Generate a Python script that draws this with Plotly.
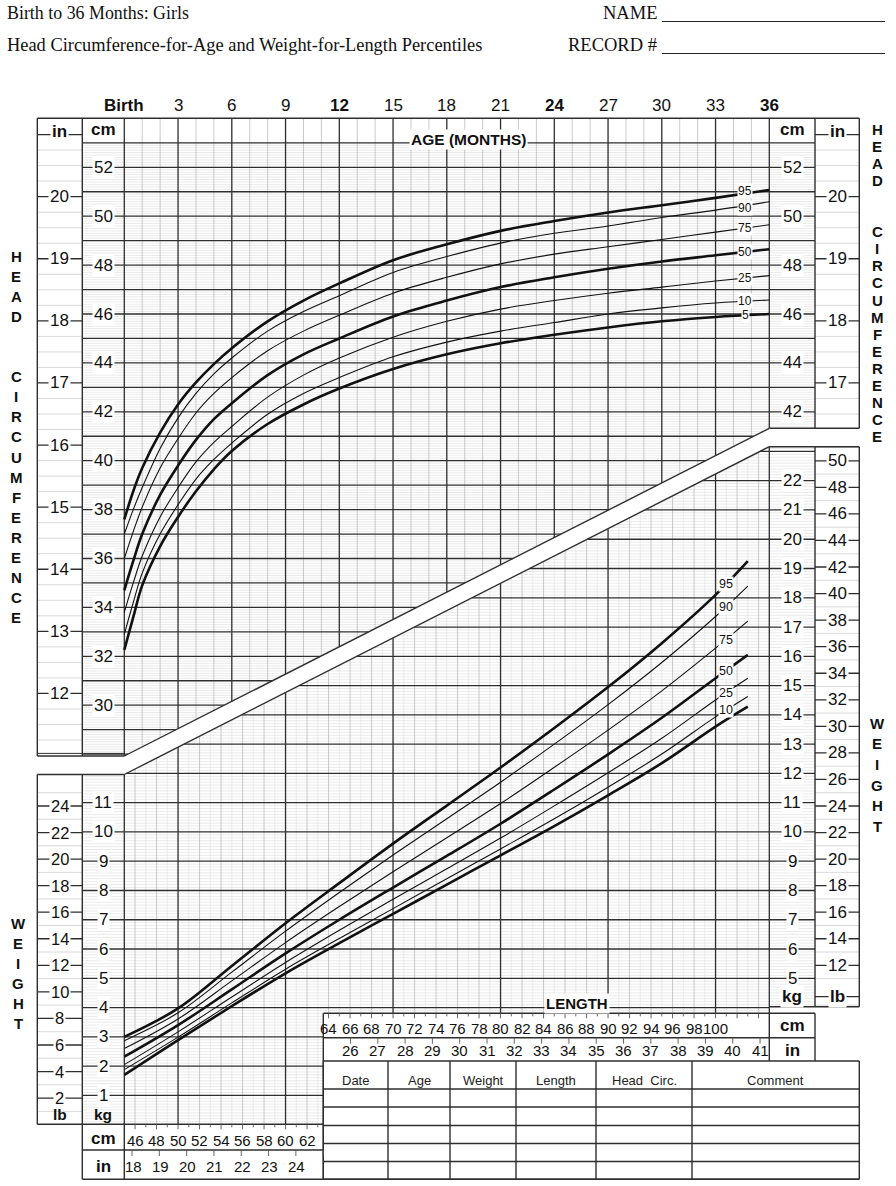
import numpy as np
import plotly.graph_objects as go

# ================= DATA =================
hc_age = [0, 0.5, 1, 2, 3, 4, 5, 6, 8, 10, 12, 15, 18, 21, 24, 27, 30, 33, 36]
hc_p5 = [32.26, 33.6, 34.9, 36.5, 37.7, 38.75, 39.65, 40.4, 41.5, 42.3, 42.95, 43.75, 44.35, 44.8, 45.15, 45.45, 45.7, 45.88, 46.0]
hc_p10 = [32.9, 34.2, 35.4, 37.0, 38.2, 39.25, 40.05, 40.72, 41.9, 42.75, 43.4, 44.25, 44.85, 45.3, 45.65, 46.0, 46.25, 46.45, 46.57]
hc_p25 = [33.8, 35.0, 36.1, 37.7, 38.9, 39.95, 40.75, 41.4, 42.6, 43.5, 44.2, 45.05, 45.7, 46.2, 46.55, 46.85, 47.1, 47.35, 47.57]
hc_p50 = [34.7, 35.9, 37.0, 38.6, 39.8, 40.85, 41.7, 42.35, 43.5, 44.35, 45.0, 45.9, 46.55, 47.1, 47.5, 47.85, 48.15, 48.4, 48.65]
hc_p75 = [36.0, 37.1, 38.1, 39.7, 40.9, 41.95, 42.75, 43.4, 44.5, 45.3, 45.95, 46.85, 47.5, 48.05, 48.45, 48.75, 49.05, 49.35, 49.65]
hc_p90 = [37.0, 38.0, 38.9, 40.5, 41.75, 42.75, 43.55, 44.2, 45.3, 46.1, 46.75, 47.7, 48.35, 48.9, 49.3, 49.6, 49.95, 50.25, 50.59]
hc_p95 = [37.6, 38.75, 39.7, 41.15, 42.3, 43.2, 43.95, 44.6, 45.7, 46.55, 47.25, 48.2, 48.85, 49.4, 49.8, 50.15, 50.45, 50.75, 51.07]

wl_len = [45, 50, 55, 60, 65, 70, 75, 80, 85, 90, 95, 100, 103]
wl_p5 = [1.70, 2.89, 4.05, 5.17, 6.20, 7.20, 8.20, 9.20, 10.20, 11.25, 12.35, 13.60, 14.28]
wl_p10 = [1.88, 2.99, 4.16, 5.31, 6.36, 7.38, 8.40, 9.42, 10.45, 11.53, 12.66, 13.93, 14.63]
wl_p25 = [2.05, 3.17, 4.36, 5.54, 6.64, 7.70, 8.74, 9.79, 10.89, 12.02, 13.20, 14.51, 15.25]
wl_p50 = [2.32, 3.40, 4.62, 5.85, 7.00, 8.10, 9.18, 10.28, 11.45, 12.65, 13.90, 15.25, 16.05]
wl_p75 = [2.60, 3.61, 4.91, 6.22, 7.45, 8.64, 9.80, 10.97, 12.21, 13.48, 14.82, 16.28, 17.20]
wl_p90 = [2.87, 3.82, 5.21, 6.61, 7.93, 9.21, 10.45, 11.70, 13.00, 14.35, 15.79, 17.36, 18.40]
wl_p95 = [3.00, 3.97, 5.42, 6.88, 8.25, 9.60, 10.90, 12.20, 13.55, 14.95, 16.45, 18.10, 19.25]

hc_series = [("5", hc_p5, True), ("10", hc_p10, False), ("25", hc_p25, False), ("50", hc_p50, True),
             ("75", hc_p75, False), ("90", hc_p90, False), ("95", hc_p95, True)]
wl_series = [("5", wl_p5, True), ("10", wl_p10, False), ("25", wl_p25, False), ("50", wl_p50, True),
             ("75", wl_p75, False), ("90", wl_p90, False), ("95", wl_p95, True)]

age_ticks = [0, 3, 6, 9, 12, 15, 18, 21, 24, 27, 30, 33, 36]
age_tick_text = ["Birth", "3", "6", "9", "12", "15", "18", "21", "24", "27", "30", "33", "36"]
age_tick_bold = ["Birth", "12", "24", "36"]
hc_cm_left = [30, 32, 34, 36, 38, 40, 42, 44, 46, 48, 50, 52]
hc_cm_right = [42, 44, 46, 48, 50, 52]
hc_in_left = [12, 13, 14, 15, 16, 17, 18, 19, 20]
hc_in_right = [17, 18, 19, 20]
wt_kg_left = [1, 2, 3, 4, 5, 6, 7, 8, 9, 10, 11]
wt_kg_right = [5, 6, 7, 8, 9, 10, 11, 12, 13, 14, 15, 16, 17, 18, 19, 20, 21, 22]
wt_lb_left = [2, 4, 6, 8, 10, 12, 14, 16, 18, 20, 22, 24]
wt_lb_right = [12, 14, 16, 18, 20, 22, 24, 26, 28, 30, 32, 34, 36, 38, 40, 42, 44, 46, 48, 50]
len_cm_low = [46, 48, 50, 52, 54, 56, 58, 60, 62]
len_in_low = [18, 19, 20, 21, 22, 23, 24]
len_cm_up = [64, 66, 68, 70, 72, 74, 76, 78, 80, 82, 84, 86, 88, 90, 92, 94, 96, 98, 100]
len_in_up = [26, 27, 28, 29, 30, 31, 32, 33, 34, 35, 36, 37, 38, 39, 40, 41]
table_headers = ["Date", "Age", "Weight", "Length", "Head  Circ.", "Comment"]

# ================= LAYOUT GEOMETRY (pixels) =================
W, H = 896, 1186
SANS = "Liberation Sans, Arial, Helvetica, sans-serif"
SERIF = "Liberation Serif, Times New Roman, serif"
X0, X1 = 124.3, 769.3          # grid left / right
PX_MONTH = (X1 - X0) / 36.0
PX_LCM = (X1 - X0) / 60.0      # length 45..105 cm
Y52, PX_HCM = 167.3, 24.45
Y22, PX_KG = 480.7, 29.27
XL0, XL1 = 37.3, 82.3
XR1, XR2 = 815.0, 859.3
Y_TOP, Y_HDR = 118.3, 142.3
Y_HC_BOT_L, Y_HC_BOT_R = 756.0, 428.3
Y_WT_TOP_L, Y_WT_TOP_R = 774.5, 446.7
Y_WT_BOT_R, Y_WT_BOT = 1006.7, 1124.3
X_TAB = 323.3
Y_LB_TOP, Y_LB_MID, Y_TAB_TOP, Y_END = 1013.3, 1037.7, 1061.0, 1179.3
Y_LOW_MID = 1150.0
TAB_X = [323.3, 388, 450, 516, 596, 692, 859.3]
TAB_Y = [1061.0, 1089.0, 1107.0, 1125.5, 1143.5, 1161.5, 1179.3]

def age_px(px): return (px - X0) / PX_MONTH
def hc_py(py): return 52 - (py - Y52) / PX_HCM
def len_px(px): return 45 + (px - X0) / PX_LCM
def kg_py(py): return 22 - (py - Y22) / PX_KG
def py_hc(c): return Y52 + (52 - c) * PX_HCM
def py_kg(k): return Y22 + (22 - k) * PX_KG
def px_len(L): return X0 + (L - 45) * PX_LCM
def px_age(a): return X0 + a * PX_MONTH

cmD0, cmD1 = hc_py(Y_HC_BOT_L), hc_py(Y_HC_BOT_R)
kgD0, kgD1 = kg_py(Y_WT_TOP_L), kg_py(Y_WT_TOP_R)
def diag_cm(a): return cmD0 + (cmD1 - cmD0) * a / 36.0
def diag_age(c): return 36.0 * (c - cmD0) / (cmD1 - cmD0)
def diag_kg(L): return kgD0 + (kgD1 - kgD0) * (L - 45) / 60.0
def diag_len(k): return 45 + 60.0 * (k - kgD0) / (kgD1 - kgD0)

DARK = "#2e2e2e"
FINE = "#dcdcdc"
LIGHT = "#bdbdbd"

fig = go.Figure()

def segs(pairs, color, width, ax="x", ay="y"):
    xs, ys = [], []
    for (xa, ya, xb, yb) in pairs:
        xs += [xa, xb, None]
        ys += [ya, yb, None]
    fig.add_trace(go.Scatter(x=xs, y=ys, mode="lines", line=dict(color=color, width=width),
                             hoverinfo="skip", showlegend=False, xaxis=ax, yaxis=ay))

# ---------- head circumference grid ----------
def hc_hline(c):
    if c < cmD0:
        return None
    xl = age_px(XL1)
    xr = diag_age(c) if c <= cmD1 else age_px(XR1)
    return (xl, c, xr, c)

fine_c = [round(v, 1) for v in np.arange(28.0, 53.0, 0.1) if abs(v - round(v)) > 0.05]
segs([s for s in (hc_hline(c) for c in fine_c) if s], FINE, 0.6)
qin = [v for v in np.arange(11.0, 21.01, 0.25)]
pl = []
for v in qin:
    c = v * 2.54
    if cmD0 <= c <= 54 and abs(v - round(v)) > 0.01:
        pl.append((age_px(XL0), c, age_px(XL1), c))
    if cmD1 <= c <= 54 and abs(v - round(v)) > 0.01:
        pl.append((age_px(XR1), c, age_px(XR2), c))
segs(pl, "#cfcfcf", 0.8)
segs([(a, diag_cm(a), a, 54.0) for a in range(1, 36) if a % 3], LIGHT, 0.8)
segs([(a, diag_cm(a), a, 54.0) for a in range(0, 37, 3)], DARK, 1.3)
segs([s for s in (hc_hline(c) for c in range(28, 54)) if s], DARK, 1.3)
pl = []
for v in hc_in_left + [21]:
    pl.append((age_px(XL0), v * 2.54, age_px(XL1), v * 2.54))
for v in hc_in_right + [21]:
    pl.append((age_px(XR1), v * 2.54, age_px(XR2), v * 2.54))
segs(pl, DARK, 1.3)
segs([(0, diag_cm(0), 36, diag_cm(36))], DARK, 1.4)

# ---------- weight-for-length grid ----------
kg_right_lo = kg_py(Y_WT_BOT_R)
kg_box = kg_py(Y_LB_TOP)
def wt_hline(k):
    if k > kgD1:
        return None
    xl = len_px(XL1) if k <= kgD0 else diag_len(k)
    if k >= kg_right_lo:
        xr = len_px(XR1)
    elif k >= kg_box:
        xr = 105.0
    else:
        xr = len_px(X_TAB)
    return (xl, k, xr, k)

def wt_vline(L):
    bot = kg_py(Y_WT_BOT) if px_len(L) <= X_TAB + 0.5 else kg_box
    return (L, bot, L, diag_kg(L))

fine_k = [round(v, 1) for v in np.arange(0.1, 23.2, 0.1) if abs(v - round(v)) > 0.05]
segs([s for s in (wt_hline(k) for k in fine_k) if s], FINE, 0.6, "x2", "y2")
pl = []
for lb in range(1, 52):
    k = lb * 0.45359237
    if lb % 2 == 1:
        if k <= kgD0:
            pl.append((len_px(XL0), k, len_px(XL1), k))
        if kg_right_lo <= k <= kgD1:
            pl.append((len_px(XR1), k, len_px(XR2), k))
segs(pl, "#cfcfcf", 0.8, "x2", "y2")
segs([wt_vline(L) for L in range(46, 105) if L % 10 != 0 and L % 2 == 1], "#e4e4e4", 0.7, "x2", "y2")
segs([wt_vline(L) for L in range(46, 105) if L % 10 != 0 and L % 2 == 0], LIGHT, 0.8, "x2", "y2")
segs([wt_vline(L) for L in [45, 50, 60, 70, 80, 90, 100, 105]], DARK, 1.3, "x2", "y2")
segs([s for s in (wt_hline(k) for k in range(1, 24)) if s], DARK, 1.3, "x2", "y2")
pl = []
for lb in wt_lb_left:
    k = lb * 0.45359237
    pl.append((len_px(XL0), k, len_px(XL1), k))
for lb in wt_lb_right:
    k = lb * 0.45359237
    pl.append((len_px(XR1), k, len_px(XR2), k))
segs(pl, DARK, 1.3, "x2", "y2")
segs([(45, diag_kg(45), 105, diag_kg(105))], DARK, 1.4, "x2", "y2")

# ---------- percentile curves ----------
for name, vals, thick in hc_series:
    fig.add_trace(go.Scatter(x=hc_age, y=vals, mode="lines", line=dict(color="#111111", width=2.6 if thick else 1.1, shape="spline", smoothing=1.0),
                             hoverinfo="skip", showlegend=False, xaxis="x", yaxis="y"))
for name, vals, thick in wl_series:
    fig.add_trace(go.Scatter(x=wl_len, y=vals, mode="lines", line=dict(color="#111111", width=2.6 if thick else 1.1, shape="spline", smoothing=1.0),
                             hoverinfo="skip", showlegend=False, xaxis="x2", yaxis="y2"))

# ---------- frame shapes ----------
shapes = []
def L(xa, ya, xb, yb, w=1.4, c=DARK):
    shapes.append(dict(type="line", xref="paper", yref="paper", x0=xa / W, y0=1 - ya / H, x1=xb / W, y1=1 - yb / H,
                       line=dict(color=c, width=w)))

L(XL0, Y_TOP, XR2, Y_TOP)
L(XL0, Y_TOP, XL0, Y_HC_BOT_L); L(XL1, Y_TOP, XL1, Y_HC_BOT_L)
L(XL0, Y_HC_BOT_L, X0, Y_HC_BOT_L); L(XL0, Y_HC_BOT_L - 2.6, X0, Y_HC_BOT_L - 2.6, 1.0)
L(XR1, Y_TOP, XR1, Y_HC_BOT_R); L(XR2, Y_TOP, XR2, Y_HC_BOT_R); L(X1, Y_HC_BOT_R, XR2, Y_HC_BOT_R)
L(XL0, Y_WT_TOP_L, X0, Y_WT_TOP_L)
L(XL0, Y_WT_TOP_L, XL0, Y_WT_BOT); L(XL1, Y_WT_TOP_L, XL1, Y_END)
L(XL0, Y_WT_BOT, X_TAB, Y_WT_BOT)
L(X0, Y_WT_BOT, X0, Y_END); L(XL1, Y_LOW_MID, X_TAB, Y_LOW_MID)
L(X_TAB, Y_LB_TOP, X_TAB, Y_END)
L(X1, Y_WT_TOP_R, XR2, Y_WT_TOP_R)
L(XR1, Y_WT_TOP_R, XR1, Y_WT_BOT_R); L(XR2, Y_WT_TOP_R, XR2, Y_WT_BOT_R); L(X1, Y_WT_BOT_R, XR2, Y_WT_BOT_R)
L(X_TAB, Y_LB_TOP, XR1, Y_LB_TOP); L(X_TAB, Y_LB_MID, XR1, Y_LB_MID)
L(X1, Y_LB_TOP, X1, Y_TAB_TOP); L(XR1, Y_LB_TOP, XR1, Y_TAB_TOP)
for yy in TAB_Y:
    L(X_TAB, yy, XR2, yy)
L(XL1, Y_END, XR2, Y_END)
for xx in TAB_X:
    L(xx, TAB_Y[0], xx, Y_END)
L(662, 21.5, 885, 21.5, 1.0, "#222")
L(662, 53.5, 885, 53.5, 1.0, "#222")

for cm in range(46, 64):
    xx = px_len(cm)
    L(xx, Y_WT_BOT, xx, Y_WT_BOT + (5 if cm % 2 == 0 else 3), 0.9, "#555")
for v in [18, 19, 20, 21, 22, 23, 24, 25]:
    xx = px_len(v * 2.54)
    if xx < X_TAB:
        L(xx, Y_LOW_MID, xx, Y_LOW_MID + 6, 0.9, "#555")
for cm in range(64, 105):
    xx = px_len(cm)
    L(xx, Y_LB_TOP, xx, Y_LB_TOP + (5 if cm % 2 == 0 else 3), 0.9, "#555")
for v in range(26, 42):
    xx = px_len(v * 2.54)
    L(xx, Y_LB_MID, xx, Y_LB_MID + 6, 0.9, "#555")
L(XR1, 996.7, XR2, 996.7, 1.3)

# ---------- annotations ----------
anns = []
def A(text, x, y, size=17, bold=False, bg=None, xanchor="center", yanchor="middle", family=SANS,
      xref="paper", yref="paper", color="#111", pad=1, yshift=0):
    d = dict(text=("<b>%s</b>" % text) if bold else text, x=x, y=y, xref=xref, yref=yref, showarrow=False,
             font=dict(family=family, size=size, color=color), xanchor=xanchor, yanchor=yanchor, yshift=yshift)
    if bg:
        d.update(bgcolor=bg, borderpad=pad)
    anns.append(d)
def AP(text, px, py, **kw):
    A(text, px / W, 1 - py / H, **kw)

AP("Birth to 36 Months: Girls", 5, 13, size=17.9, family=SERIF, xanchor="left")
AP("Head Circumference-for-Age and Weight-for-Length Percentiles", 5, 45, size=18.4, family=SERIF, xanchor="left")
AP("NAME", 659, 13, size=18.5, family=SERIF, xanchor="right")
AP("RECORD #", 659, 45, size=18.5, family=SERIF, xanchor="right")

for a, t in zip(age_ticks, age_tick_text):
    AP(t, px_age(a), 105, size=17, bold=(t in age_tick_bold))
AP("AGE (MONTHS)", 468, 139.5, size=15.5, bold=True, bg="white")

xc_in_l, xc_cm_l = (XL0 + XL1) / 2, (XL1 + X0) / 2
xc_cm_r, xc_in_r = (X1 + XR1) / 2, (XR1 + XR2) / 2
AP("in", xc_in_l, py_hc(21 * 2.54) - 3, size=17, bold=True, bg="white")
AP("cm", xc_cm_l, 130, size=17, bold=True)
AP("cm", xc_cm_r, 130, size=17, bold=True)
AP("in", xc_in_r, py_hc(21 * 2.54) - 3, size=17, bold=True, bg="white")
for c in hc_cm_left:
    AP(str(c), xc_cm_l, py_hc(c), bg="white")
for c in hc_cm_right:
    AP(str(c), xc_cm_r, py_hc(c), bg="white")
for v in hc_in_left:
    AP(str(v), xc_in_l, py_hc(v * 2.54), bg="white")
for v in hc_in_right:
    AP(str(v), xc_in_r, py_hc(v * 2.54), bg="white")
for k in wt_kg_left:
    AP(str(k), xc_cm_l, py_kg(k), bg="white")
for k in wt_kg_right:
    AP(str(k), xc_cm_r, py_kg(k), bg="white")
for lb in wt_lb_left:
    AP(str(lb), xc_in_l, py_kg(lb * 0.45359237), size=16.5, bg="white")
for lb in wt_lb_right:
    AP(str(lb), xc_in_r, py_kg(lb * 0.45359237), bg="white")
AP("lb", xc_in_l, 1114, size=15.5, bold=True)
AP("kg", xc_cm_l, 1114, size=15.5, bold=True)
AP("kg", xc_cm_r, 996.7, size=17, bold=True, bg="white")
AP("lb", xc_in_r, 996.7, size=17, bold=True, bg="white")

def vword(word, px, py0, step):
    for i, ch in enumerate(word):
        if ch != " ":
            AP(ch, px, py0 + i * step, size=15, bold=True)
vword("HEAD  CIRCUMFERENCE", 16, 256, 20.1)
vword("HEAD  CIRCUMFERENCE", 877, 129.5, 17.05)
vword("WEIGHT", 18, 923.3, 20.0)
vword("WEIGHT", 877, 723.0, 20.7)

hc_label_shift = {"95": 3, "90": -2}
for name, vals, thick in hc_series:
    A(name, 34.65, float(np.interp(34.65, hc_age, vals)), size=12, bg="white", xref="x", yref="y",
      pad=0, yshift=hc_label_shift.get(name, 0))
for name, vals, thick in wl_series:
    if name == "5":
        continue
    A(name, 100.95, float(np.interp(100.95, wl_len, vals)), size=12.5, bg="white", xref="x2", yref="y2", pad=0)

AP("LENGTH", 577, 1003, size=15, bold=True, bg="white")
for cm in len_cm_low:
    AP(str(cm), px_len(cm), 1140.5, size=15)
for v in len_in_low:
    AP(str(v), px_len(v * 2.54) + 1, 1166.5, size=15)
for cm in len_cm_up:
    AP(str(cm), px_len(cm), 1028.5, size=15)
for v in len_in_up:
    AP(str(v), px_len(v * 2.54), 1050.5, size=15)
AP("cm", xc_cm_l, 1138.5, size=17, bold=True)
AP("in", xc_cm_l, 1166, size=17, bold=True)
AP("cm", xc_cm_r, 1025.5, size=17, bold=True)
AP("in", xc_cm_r, 1050, size=17, bold=True)
for i, t in enumerate(table_headers):
    AP(t, (TAB_X[i] + TAB_X[i + 1]) / 2, 1080, size=13, color="#222")

ax_common = dict(visible=False, fixedrange=True, showgrid=False, zeroline=False)
fig.update_layout(
    width=W, height=H, margin=dict(l=0, r=0, t=0, b=0),
    paper_bgcolor="white", plot_bgcolor="white", showlegend=False,
    xaxis=dict(domain=[0, 1], range=[age_px(0), age_px(W)], **ax_common),
    yaxis=dict(domain=[0, 1], range=[hc_py(H), hc_py(0)], **ax_common),
    xaxis2=dict(domain=[0, 1], range=[len_px(0), len_px(W)], overlaying="x", anchor="y2", **ax_common),
    yaxis2=dict(domain=[0, 1], range=[kg_py(H), kg_py(0)], overlaying="y", anchor="x2", **ax_common),
    shapes=shapes, annotations=anns,
)
fig.write_html("out.html", config={"displayModeBar": False},
               post_script="document.body.style.margin='0px';document.body.style.overflow='hidden';")
